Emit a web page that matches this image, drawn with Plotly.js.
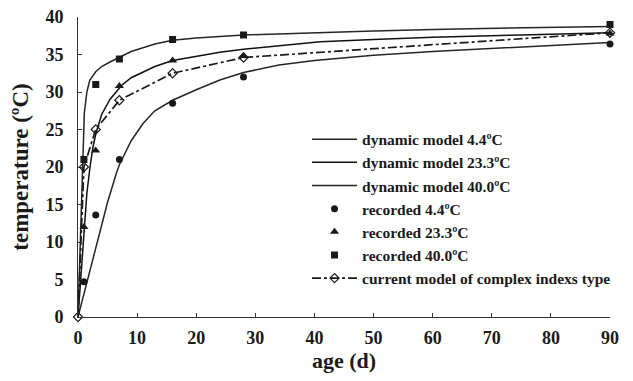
<!DOCTYPE html>
<html>
<head>
<meta charset="utf-8">
<script src="https://cdn.plot.ly/plotly-3.0.1.min.js"></script>
<style>html,body{margin:0;padding:0;background:#fff;}#chart{width:633px;height:381px;}</style>
</head>
<body>
<div id="chart"></div>
<script>
// Dynamic model curves
var dyn44X = [0, 1, 2, 3, 4, 5, 6.5, 7, 9, 11, 13, 16, 20, 24, 28, 34, 40, 50, 60, 75, 90];
var dyn44Y = [0, 3.1, 6.1, 9.2, 12.2, 15.3, 19.2, 20.3, 23.5, 25.8, 27.5, 28.9, 30.3, 31.6, 32.6, 33.6, 34.2, 34.9, 35.4, 36.0, 36.6];
var dyn233X = [0, 1, 1.5, 2, 2.5, 3, 4, 5.4, 7.4, 9, 11, 13, 16, 20, 24, 28, 34, 41, 50, 60, 75, 90];
var dyn233Y = [0, 12, 16.5, 19.8, 22.5, 24.4, 27, 29, 30.9, 31.9, 32.7, 33.4, 34.2, 34.8, 35.3, 35.7, 36.2, 36.7, 37.0, 37.3, 37.6, 37.9];
var dyn40X = [0, 0.3, 0.62, 0.9, 1.07, 1.5, 2, 3, 4, 5.4, 7, 9, 11, 13, 16, 20, 28, 41, 50, 60, 75, 90];
var dyn40Y = [0, 7, 15.6, 23.6, 27.2, 30, 31.6, 32.7, 33.4, 34.0, 34.6, 35.4, 35.9, 36.4, 36.9, 37.2, 37.6, 37.95, 38.15, 38.35, 38.55, 38.75];

// Recorded values
var ageRec = [1, 3, 7, 16, 28, 90];
var rec44 = [4.7, 13.6, 21, 28.5, 32, 36.4];
var rec233 = [12, 22.2, 30.8, 34.2, 34.8, 37.8];
var rec40 = [21, 31, 34.4, 37, 37.6, 39.0];
// Current model of complex indexs type
var ageModel = [0, 1, 3, 7, 16, 28, 90];
var currentModel = [0, 20, 25, 28.9, 32.5, 34.6, 37.9];

var names = ['dynamic model 4.4ºC', 'dynamic model 23.3ºC', 'dynamic model 40.0ºC',
             'recorded 4.4ºC', 'recorded 23.3ºC', 'recorded 40.0ºC',
             'current model of complex indexs type'];

var xTicks = [0, 10, 20, 30, 40, 50, 60, 70, 80, 90];
var yTicks = [0, 5, 10, 15, 20, 25, 30, 35, 40];

var lineCol = '#1a1a1a';
var traces = [
  {x: dyn44X, y: dyn44Y, name: names[0], mode: 'lines', line: {color: '#262626', width: 1.5}},
  {x: dyn233X, y: dyn233Y, name: names[1], mode: 'lines', line: {color: '#111', width: 1.5}},
  {x: dyn40X, y: dyn40Y, name: names[2], mode: 'lines', line: {color: '#262626', width: 1.5}},
  {x: ageRec, y: rec44, name: names[3], mode: 'markers', cliponaxis: false, marker: {symbol: 'circle', size: 7, color: lineCol}},
  {x: ageRec, y: rec233, name: names[4], mode: 'markers', cliponaxis: false, marker: {symbol: 'triangle-up', size: 8, color: lineCol}},
  {x: ageRec, y: rec40, name: names[5], mode: 'markers', cliponaxis: false, marker: {symbol: 'square', size: 7, color: lineCol}},
  {x: ageModel, y: currentModel, name: names[6], mode: 'lines+markers', cliponaxis: false,
   line: {color: lineCol, width: 1.7, dash: 'dashdot'},
   marker: {symbol: 'diamond-open', size: 7, color: lineCol, line: {width: 1.2, color: lineCol}}}
];

var fontFam = '"Liberation Serif", "Times New Roman", serif';
function boldText(v) { return '<b>' + v + '</b>'; }
var layout = {
  width: 633, height: 381,
  margin: {l: 78, r: 23, t: 17, b: 64, autoexpand: false},
  paper_bgcolor: '#fff', plot_bgcolor: '#fff',
  font: {family: fontFam, color: '#1a1a1a'},
  showlegend: true,
  legend: {
    x: 0.4305, y: 0.648, xanchor: 'left', yanchor: 'top',
    bgcolor: 'rgba(0,0,0,0)', borderwidth: 0,
    itemwidth: 45, tracegroupgap: 0,
    font: {family: fontFam, size: 15.5, color: '#1a1a1a', weight: 'bold'}
  },
  xaxis: {
    range: [0, 90], tickmode: 'array', tickvals: xTicks, ticktext: xTicks.map(boldText),
    showgrid: false, zeroline: false, automargin: false,
    showline: true, linecolor: '#333', linewidth: 1,
    ticks: 'inside', ticklen: 4, tickcolor: '#333',
    ticklabelstandoff: 4,
    tickfont: {family: fontFam, size: 18, weight: 'bold', color: '#1a1a1a'},
    title: {text: '<b>age (d)</b>', font: {family: fontFam, size: 22, weight: 'bold', color: '#1a1a1a'}, standoff: 4}
  },
  yaxis: {
    range: [0, 40], tickmode: 'array', tickvals: yTicks, ticktext: yTicks.map(boldText),
    showgrid: false, zeroline: false, automargin: false,
    showline: true, linecolor: '#333', linewidth: 1,
    ticks: 'inside', ticklen: 4, tickcolor: '#333',
    ticklabelstandoff: 10,
    tickfont: {family: fontFam, size: 18, weight: 'bold', color: '#1a1a1a'},
    title: {text: '<b>temperature (ºC)</b>', font: {family: fontFam, size: 23, weight: 'bold', color: '#1a1a1a'}, standoff: 10}
  }
};

Plotly.newPlot('chart', traces, layout, {displayModeBar: false, staticPlot: true});
</script>
</body>
</html>
